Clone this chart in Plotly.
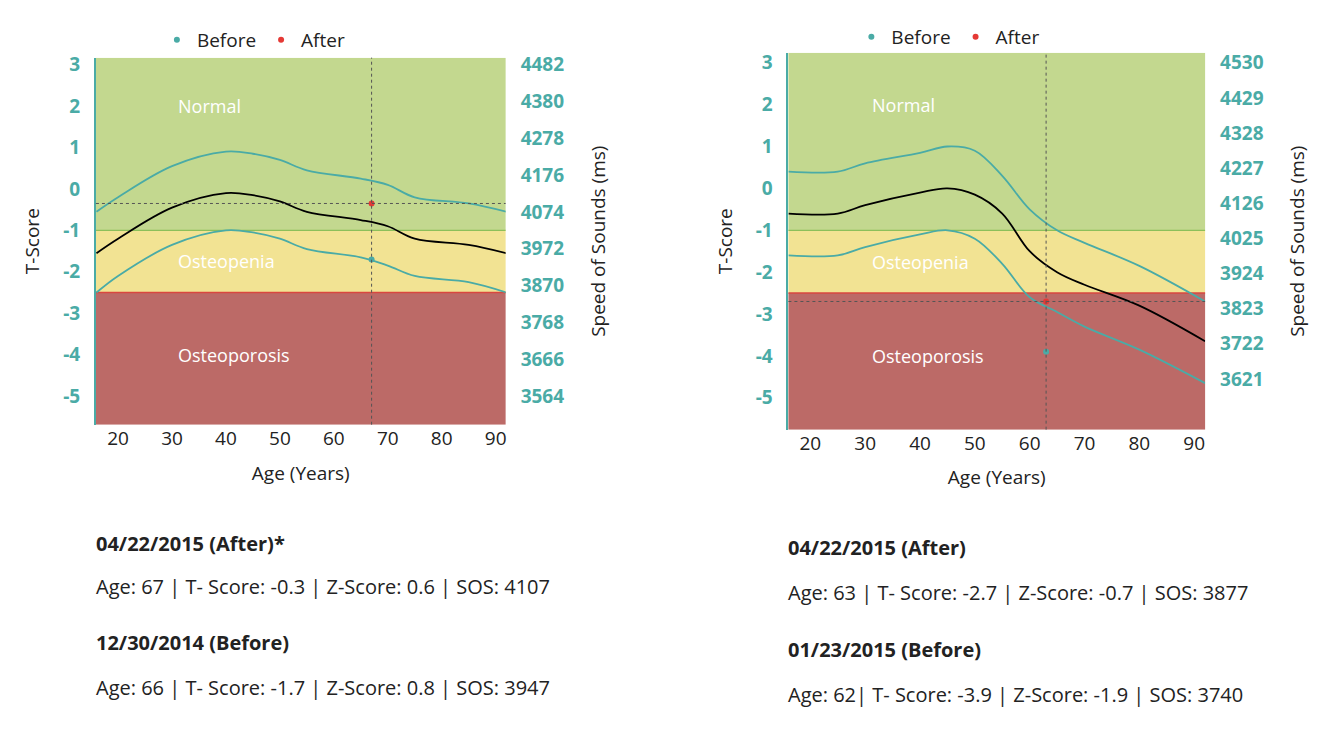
import plotly.graph_objects as go

W, H = 1336, 754
DX, DY = 9, 11  # page offset compensation
TEAL = "#4aaba6"
RED = "#e53935"

# ---- data: left chart
l_age = [16, 20, 30, 40, 45, 50, 55, 65, 70, 75, 85, 92]
l_mid = [-1.55, -1.2, -0.45, -0.1, -0.15, -0.3, -0.55, -0.75, -0.9, -1.2, -1.35, -1.55]
l_up = [-0.55, -0.2, 0.55, 0.9, 0.85, 0.7, 0.45, 0.25, 0.1, -0.2, -0.35, -0.55]
l_lo = [-2.5, -2.1, -1.35, -1.0, -1.05, -1.2, -1.45, -1.65, -1.85, -2.1, -2.25, -2.5]
l_before = (67, -1.7)
l_after = (67, -0.35)
l_sos = [4482, 4380, 4278, 4176, 4074, 3972, 3870, 3768, 3666, 3564]

# ---- data: right chart
r_age = [16, 25, 30, 40, 45, 50, 55, 60, 65, 70, 80, 92]
r_mid = [-0.6, -0.6, -0.4, -0.1, 0.0, -0.15, -0.6, -1.5, -2.0, -2.3, -2.8, -3.65]
r_up = [0.4, 0.4, 0.6, 0.85, 1.0, 0.9, 0.3, -0.5, -1.0, -1.3, -1.85, -2.7]
r_lo = [-1.6, -1.6, -1.4, -1.1, -1.0, -1.2, -1.8, -2.6, -2.95, -3.3, -3.85, -4.65]
r_before = (63, -3.9)
r_after = (63, -2.7)
r_sos = [4530, 4429, 4328, 4227, 4126, 4025, 3924, 3823, 3722, 3621]

t_ticks = [3, 2, 1, 0, -1, -2, -3, -4, -5]
age_ticks = [20, 30, 40, 50, 60, 70, 80, 90]

fig = go.Figure()


def panel(xr, yr, ages, mid, up, lo, before, after, legend):
    for ys, c in [(up, TEAL), (lo, TEAL), (mid, "black")]:
        fig.add_trace(go.Scatter(x=ages, y=ys, mode="lines", line=dict(color=c, width=1.8, shape="spline"),
                                 xaxis=xr, yaxis=yr, showlegend=False, hoverinfo="skip"))
    fig.add_trace(go.Scatter(x=[before[0]], y=[before[1]], mode="markers", name="Before",
                             marker=dict(color=TEAL, size=6), xaxis=xr, yaxis=yr, legend=legend))
    fig.add_trace(go.Scatter(x=[after[0]], y=[after[1]], mode="markers", name="After",
                             marker=dict(color=RED, size=6), xaxis=xr, yaxis=yr, legend=legend))


panel("x", "y", l_age, l_mid, l_up, l_lo, l_before, l_after, "legend")
panel("x3", "y3", r_age, r_mid, r_up, r_lo, r_before, r_after, "legend2")
fig.add_trace(go.Scatter(x=[None], y=[None], xaxis="x", yaxis="y2", showlegend=False))
fig.add_trace(go.Scatter(x=[None], y=[None], xaxis="x3", yaxis="y4", showlegend=False))


def bands(xr, yr, ylo, yhi, after):
    for y0, y1, c in [(-1, yhi, "#c3d88f"), (-2.5, -1, "#f2e393"), (ylo, -2.5, "#bc6a67")]:
        fig.add_shape(type="rect", xref=xr + " domain", yref=yr, x0=0, x1=1, y0=y0, y1=y1,
                      fillcolor=c, line_width=0, layer="below")
    fig.add_shape(type="line", xref=xr + " domain", yref=yr, x0=0, x1=1, y0=-1, y1=-1,
                  line=dict(color="#8cbf5a", width=1.2), layer="below")
    fig.add_shape(type="line", xref=xr + " domain", yref=yr, x0=0, x1=1, y0=-2.5, y1=-2.5,
                  line=dict(color="#d9473f", width=1.5), layer="below")
    fig.add_shape(type="line", xref=xr, yref=yr + " domain", x0=after[0], x1=after[0], y0=0, y1=1,
                  line=dict(color="#555", width=1, dash="dot"))
    fig.add_shape(type="line", xref=xr + " domain", yref=yr, x0=0, x1=1, y0=after[1], y1=after[1],
                  line=dict(color="#555", width=1, dash="dot"))
    for txt, y in [("Normal", 2), ("Osteopenia", -1.75), ("Osteoporosis", -4)]:
        fig.add_annotation(xref=xr + " domain", yref=yr, x=0.195, y=y, text=txt, showarrow=False,
                           xanchor="left", font=dict(color="white", size=18))


bands("x", "y", -5.69, 3.17, l_after)
bands("x3", "y3", -5.76, 3.24, r_after)

tfont = dict(color=TEAL, size=19, family="Open Sans", weight="bold")
common_y = dict(tickvals=t_ticks, ticktext=[str(t) for t in t_ticks], ticks="", showgrid=False,
                zeroline=False, tickfont=tfont, ticklabelstandoff=10,
                title=dict(text="T-Score", font=dict(size=19, color="#222"), standoff=18),
                showline=True, linecolor=TEAL, linewidth=2)
common_x = dict(tickvals=age_ticks, showgrid=False, zeroline=False, ticks="",
                tickfont=dict(size=19, color="#222"),
                title=dict(text="Age (Years)", font=dict(size=19, color="#222"), standoff=16))


def sos_axis(ticks, per, rng, anchor, over):
    # SOS tick labels placed on the T-score scale
    vals = [3 - (ticks[0] - s) / per for s in ticks]
    return dict(overlaying=over, anchor=anchor, side="right", range=rng, tickvals=vals,
                ticktext=[str(s) for s in ticks], showgrid=False, zeroline=False, tickfont=tfont,
                ticklabelstandoff=14,
                title=dict(text="Speed of Sounds (ms)", font=dict(size=19, color="#222"), standoff=28))


def px(x):
    return (x - DX) / W


def py(y):
    return 1 - (y - DY) / H


fig.update_layout(
    width=W, height=H, margin=dict(l=0, r=0, t=0, b=0), plot_bgcolor="white", paper_bgcolor="white",
    font=dict(family="Open Sans", color="#222"),
    xaxis=dict(domain=[px(97), px(507)], range=[15.9, 91.85], anchor="y", **common_x),
    yaxis=dict(domain=[py(425), py(55)], range=[-5.69, 3.17], anchor="x", **common_y),
    yaxis2=sos_axis(l_sos, 114.75, [-5.69, 3.17], "x", "y"),
    xaxis3=dict(domain=[px(790), px(1207)], range=[16, 92], anchor="y3", **common_x),
    yaxis3=dict(domain=[py(430), py(50)], range=[-5.76, 3.24], anchor="x3", **common_y),
    yaxis4=sos_axis(r_sos, 120.4, [-5.76, 3.24], "x3", "y3"),
    legend=dict(orientation="h", x=px(158), y=py(37), yanchor="middle", font=dict(size=19),
                bgcolor="rgba(0,0,0,0)"),
    legend2=dict(orientation="h", x=px(853), y=py(34), yanchor="middle", font=dict(size=19),
                 bgcolor="rgba(0,0,0,0)"),
)

texts = [
    (95, 545, "<b>04/22/2015 (After)*</b>"),
    (95, 588, "Age: 67 | T- Score: -0.3 | Z-Score: 0.6 | SOS: 4107"),
    (95, 645, "<b>12/30/2014 (Before)</b>"),
    (95, 690, "Age: 66 | T- Score: -1.7 | Z-Score: 0.8 | SOS: 3947"),
    (788, 549, "<b>04/22/2015 (After)</b>"),
    (788, 594, "Age: 63 | T- Score: -2.7 | Z-Score: -0.7 | SOS: 3877"),
    (788, 652, "<b>01/23/2015 (Before)</b>"),
    (788, 697, "Age: 62| T- Score: -3.9 | Z-Score: -1.9 | SOS: 3740"),
]
for x, y, t in texts:
    fig.add_annotation(xref="paper", yref="paper", x=px(x), y=py(y), text=t, showarrow=False,
                       xanchor="left", yanchor="middle", font=dict(size=20, color="#222"))

fig.write_html("out.html")
